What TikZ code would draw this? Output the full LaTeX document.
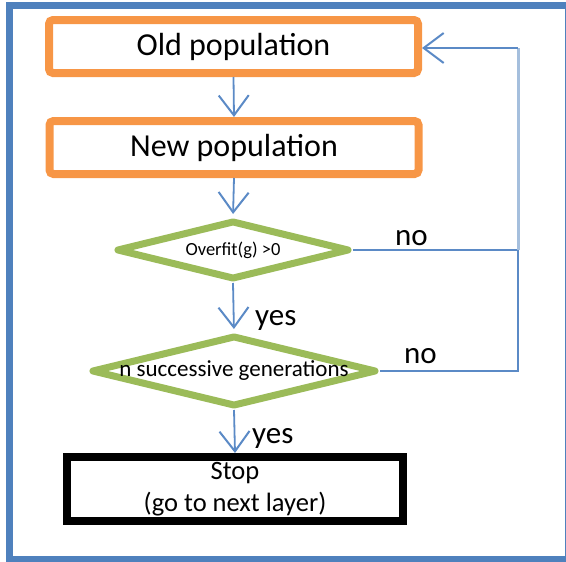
\documentclass[tikz,border=0pt]{standalone}
\usepackage{fontspec}
\setmainfont{Carlito}
\usetikzlibrary{shapes.geometric,arrows.meta}
\definecolor{frameblue}{HTML}{4F81BD}
\definecolor{arrowblue}{HTML}{5B8AC6}
\definecolor{lightblue}{HTML}{A5BFDD}
\definecolor{boxorange}{HTML}{F79646}
\definecolor{diagreen}{HTML}{9BBB59}
\tikzset{
  popbox/.style={draw=boxorange, line width=8pt, rounded corners=4pt, minimum width=369pt, minimum height=53pt, inner sep=0pt, font=\fontsize{32}{38}\selectfont},
  decision/.style={draw=diagreen, line width=7pt, line join=round, shape=diamond, inner sep=0pt, aspect=3.5},
  stopbox/.style={draw=black, line width=8pt, minimum width=336pt, minimum height=64pt, inner sep=0pt, align=center, font=\fontsize{26.5}{32}\selectfont},
  flow/.style={draw=arrowblue, line width=1.8pt, -{Straight Barb[length=20pt,width=30pt,line width=2pt]}},
  back/.style={draw=arrowblue, line width=1.8pt},
  backlight/.style={draw=lightblue, line width=3pt},
  lbl/.style={anchor=base west, inner sep=0pt, font=\fontsize{31}{36}\selectfont}
}
\begin{document}
\begin{tikzpicture}[x=1pt,y=-1pt]
\useasboundingbox (0,0) rectangle (566,562);
\draw[frameblue, line width=7pt] (9,5.5) rectangle (568.5,559);

\node[popbox] (old) at (233.5,46.5) {Old population};
\node[popbox] (new) at (234,147.5) {New population};
\node[decision, minimum width=233pt, minimum height=59pt,
      label={[font=\fontsize{18.5}{20}\selectfont]center:Overfit(g) >0}] (d1) at (233,250) {};
\node[decision, minimum width=285pt, minimum height=71pt,
      label={[font=\fontsize{23}{26}\selectfont]center:n successive generations}] (d2) at (234,371) {};
\node[stopbox] (stop) at (235,489) {Stop\\(go to next layer)};

\coordinate (j1) at (518,250);
\coordinate (j2) at (518,371);
\coordinate (j3) at (518,48);

\draw[flow] (old.south) -- (new.north);
\draw[flow, shorten >=3pt] (new.south) -- (d1.north);
\draw[flow, shorten >=3pt] (d1.south) -- (d2.north);
\draw[flow] (d2.south) -- (stop.north);

\draw[back] (d1.east) -- (j1);
\draw[back] (d2.east) -- (j2) -- (j1);
\draw[backlight] (j1) -- (j3);
\draw[flow] (j3) -- (old.east |- j3);

\node[lbl] (no1) at (395,245) {no};
\node[lbl] (no2) at (404,363) {no};
\node[lbl] (yes1) at (255,325) {yes};
\node[lbl] (yes2) at (252,443) {yes};
\end{tikzpicture}
\end{document}
